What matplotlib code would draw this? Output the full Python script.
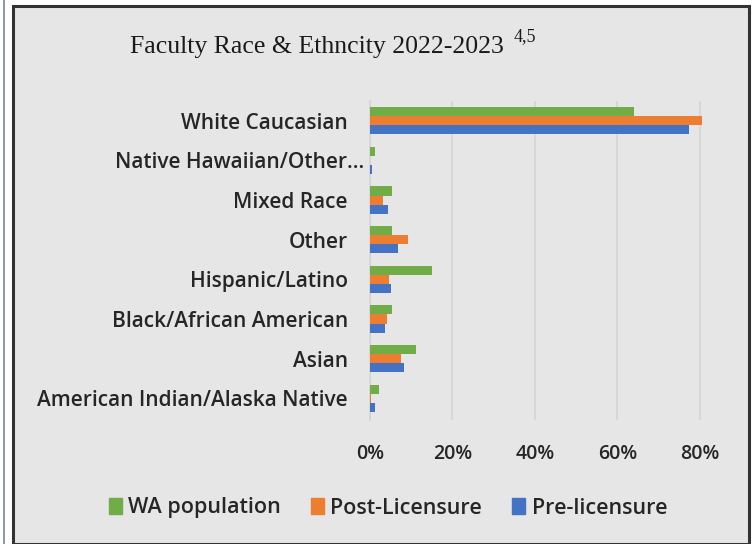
import matplotlib.pyplot as plt
import matplotlib.transforms as mtransforms
import numpy as np
from matplotlib.patches import Patch, Rectangle
from matplotlib.ticker import FuncFormatter

categories = ['American Indian/Alaska Native', 'Asian', 'Black/African American',
              'Hispanic/Latino', 'Other', 'Mixed Race', 'Native Hawaiian/Other…',
              'White Caucasian']
wa_population = [0.022, 0.111, 0.053, 0.150, 0.053, 0.053, 0.012, 0.640]
post_licensure = [0.003, 0.074, 0.042, 0.046, 0.093, 0.032, 0.000, 0.806]
pre_licensure = [0.012, 0.083, 0.036, 0.050, 0.067, 0.044, 0.006, 0.773]
x_ticks = [0, 0.2, 0.4, 0.6, 0.8]

GREEN, ORANGE, BLUE = '#70ad47', '#ed7d31', '#4472c4'
BG = '#e6e6e6'
TXT = '#262626'
W, H = 756, 544

fig = plt.figure(figsize=(W / 100, H / 100), dpi=100, facecolor='white')

# chart frame
fig.patches.append(Rectangle((13 / W, 0), (749 - 13) / W, 1 - 6 / H,
                             transform=fig.transFigure, facecolor=BG,
                             edgecolor='#333333', linewidth=2.2, zorder=-2))
fig.patches.append(Rectangle((3 / W, -0.01), 2 / W, 1.02, transform=fig.transFigure,
                             facecolor='#8a9ab0', edgecolor='none', zorder=-2))

ax = fig.add_axes([370 / W, 1 - 420 / H, (735 - 370) / W, (420 - 101) / H])
ax.set_zorder(1)
ax.set_facecolor(BG)

y = np.arange(len(categories))
h = 0.23
ax.barh(y + h, wa_population, height=h, color=GREEN, zorder=3)
ax.barh(y, post_licensure, height=h, color=ORANGE, zorder=3)
ax.barh(y - h, pre_licensure, height=h, color=BLUE, zorder=3)

ax.set_xlim(0, 0.885)
ax.set_ylim(-0.55, 7.5)
ax.set_xticks(x_ticks)
ax.xaxis.set_major_formatter(FuncFormatter(lambda v, _: f'{v * 100:.0f}%'))
ax.set_yticks(y)
ax.set_yticklabels(categories)
ax.grid(axis='x', color='#d4d4d4', linewidth=1.2, zorder=0)
for s in ['top', 'right', 'bottom']:
    ax.spines[s].set_visible(False)
ax.spines['left'].set_color('#d4d4d4')
ax.spines['left'].set_linewidth(1.2)

fam = ['Open Sans', 'DejaVu Sans']
for lab in ax.get_yticklabels():
    lab.set_fontfamily(fam)
    lab.set_fontsize(15)
    lab.set_fontweight('semibold')
    lab.set_color(TXT)
for lab in ax.get_xticklabels():
    lab.set_fontfamily(fam)
    lab.set_fontsize(14)
    lab.set_fontweight('semibold')
    lab.set_color(TXT)
ax.tick_params(axis='y', length=0, pad=16)
ax.tick_params(axis='x', length=0, pad=17)

# the truncated label sits further right, as in the source chart
nh = ax.get_yticklabels()[6]
nh.set_transform(nh.get_transform() + mtransforms.ScaledTranslation(16 / 100, 0, fig.dpi_scale_trans))

fig.text(130 / W, 1 - 47 / H, 'Faculty Race & Ethncity 2022-2023',
         family='Liberation Serif', fontsize=18.5, va='center', ha='left', color='#1a1a1a')
fig.text(514 / W, 1 - 37 / H, '4,5', family='Liberation Serif', fontsize=13,
         va='center', ha='left', color='#1a1a1a')

handles = [Patch(color=GREEN, label='WA population'),
           Patch(color=ORANGE, label='Post-Licensure'),
           Patch(color=BLUE, label='Pre-licensure')]
fig.legend(handles=handles, loc='center', bbox_to_anchor=(388 / W, 1 - 508 / H),
           ncol=3, frameon=False, prop=dict(family=fam, size=15.5, weight='semibold'),
           handlelength=0.6, handleheight=0.75, handletextpad=0.3, columnspacing=1.4,
           labelcolor=TXT)

fig.savefig('out.png', dpi=100, facecolor=fig.get_facecolor())
